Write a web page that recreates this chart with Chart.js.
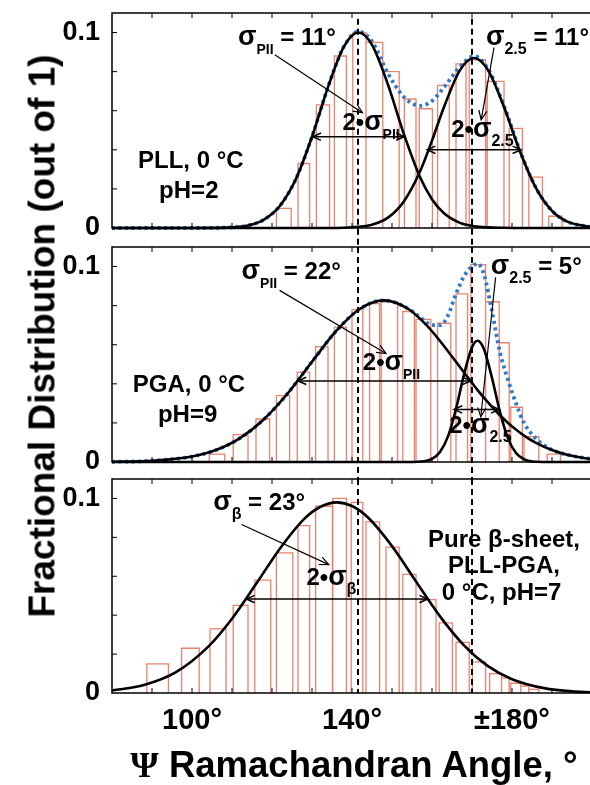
<!DOCTYPE html>
<html>
<head>
<meta charset="utf-8">
<script src="https://cdn.jsdelivr.net/npm/chart.js@4.4.1/dist/chart.umd.min.js"></script>
<style>
  html, body { margin: 0; background: #fff; }
  #fig { position: relative; width: 590px; height: 785px; overflow: hidden; font-family: "Liberation Sans", Arial, sans-serif; }
  #fig canvas { position: absolute; left: 0; top: 0; }
  #ytitle { position: absolute; left: 42px; top: 336px; transform: translate(-50%, -50%) rotate(-90deg); white-space: nowrap; font-weight: bold; font-size: 37px; line-height: 1; }
  #xtitle { position: absolute; left: 354px; top: 765px; transform: translate(-50%, -50%); white-space: nowrap; font-weight: bold; font-size: 36.5px; line-height: 1; }
  #xtitle .psi { font-family: "Liberation Serif", serif; }
</style>
</head>
<body>
<div id="fig">
  <canvas id="pll" width="590" height="785"></canvas>
  <canvas id="pga" width="590" height="785"></canvas>
  <canvas id="beta" width="590" height="785"></canvas>
  <div id="ytitle">Fractional Distribution (out of 1)</div>
  <div id="xtitle"><span class="psi">Ψ</span> Ramachandran Angle, °</div>
</div>
<script>
const FONT = '"Liberation Sans", Arial, sans-serif';
const BAR_RED = '#e8826f';
const DOT_BLUE = '#2f78d0';

const X_MIN = 80, X_MAX = 199.5;
const X_TICKS = [100, 140, 180];
const Y_TICKS = [0, 0.1];
const GUIDES = [141.5, 170]; // dashed reference angles

// PLL, 0 C, pH 2 : histogram bins (deg) and fractions
const pllLo  = [121.1, 126.5, 131.1, 135.6, 140.2, 143.5, 147.7, 153.1, 156.8, 161.4, 166.0, 169.3, 173.8, 179.3, 184.2, 189.2];
const pllHi  = [124.8, 129.4, 134.4, 138.6, 143.5, 147.7, 151.8, 156.0, 160.1, 164.3, 168.5, 173.4, 178.0, 182.6, 187.6, 192.5];
const pllVal = [0.010, 0.033, 0.063, 0.088, 0.100, 0.095, 0.080, 0.066, 0.061, 0.073, 0.084, 0.086, 0.075, 0.051, 0.026, 0.006];
// PLL fitted curves
const pllX   = [80, 100, 108, 114, 118, 122, 126, 130, 134, 138, 141.6, 145, 149, 153, 157, 160, 163, 167, 170.5, 174, 178, 182, 186, 190, 194, 199.5];
const pllPII = [0, 0, 0.0002, 0.0013, 0.0043, 0.0114, 0.0252, 0.0467, 0.0721, 0.0929, 0.100, 0.0937, 0.0733, 0.0479, 0.0261, 0.0147, 0.0075, 0.0026, 0.0009, 0.0003, 0.0001, 0, 0, 0, 0, 0];
const pll25  = [0, 0, 0, 0, 0, 0, 0, 0, 0, 0.0001, 0.0006, 0.0017, 0.0053, 0.0137, 0.0289, 0.0447, 0.0619, 0.0808, 0.087, 0.0808, 0.0619, 0.0391, 0.0204, 0.0088, 0.0031, 0.0006];
const pllSum = [0, 0, 0.0002, 0.0013, 0.0043, 0.0114, 0.0252, 0.0467, 0.0721, 0.093, 0.1005, 0.0955, 0.079, 0.067, 0.0625, 0.065, 0.072, 0.0825, 0.088, 0.0815, 0.0625, 0.0395, 0.0205, 0.0088, 0.0031, 0.0006];

// PGA, 0 C, pH 9
const pgaLo  = [104.3, 110.3, 116.0, 121.1, 126.3, 130.9, 135.6, 140.0, 144.4, 147.3, 152.7, 156.0, 161.4, 166.0, 169.7, 173.4, 176.8, 179.7, 183.0, 188.8];
const pgaHi  = [108.2, 114.0, 119.4, 124.4, 129.4, 134.0, 138.6, 142.7, 146.9, 151.4, 155.6, 159.7, 164.7, 168.9, 173.4, 176.8, 179.3, 182.6, 186.7, 192.1];
const pgaVal = [0.004, 0.014, 0.022, 0.034, 0.046, 0.059, 0.069, 0.078, 0.081, 0.082, 0.077, 0.073, 0.071, 0.086, 0.101, 0.082, 0.061, 0.028, 0.013, 0.004];
const pgaX   = [80, 90, 100, 106, 112, 118, 124, 130, 136, 142, 148, 154, 158, 160, 162, 164, 166, 168, 170, 171.4, 173, 175, 177, 179, 181, 183, 186, 190, 194, 199.5];
const pgaPII = [0.0001, 0.0006, 0.0028, 0.0061, 0.0122, 0.0219, 0.0353, 0.0513, 0.0669, 0.0784, 0.0827, 0.0784, 0.0713, 0.0669, 0.0619, 0.0567, 0.0513, 0.0458, 0.0405, 0.0368, 0.0329, 0.0282, 0.0239, 0.0200, 0.0166, 0.0135, 0.0098, 0.0061, 0.0036, 0.0016];
const pga25  = [0, 0, 0, 0, 0, 0, 0, 0, 0, 0, 0, 0, 0.0004, 0.0016, 0.0051, 0.0131, 0.0271, 0.0447, 0.0587, 0.062, 0.0577, 0.0430, 0.0255, 0.0121, 0.0046, 0.0014, 0.0001, 0, 0, 0];
const pgaSum = [0.0001, 0.0006, 0.0028, 0.0061, 0.0122, 0.0219, 0.0353, 0.0513, 0.0669, 0.0784, 0.0827, 0.0785, 0.0725, 0.070, 0.070, 0.075, 0.086, 0.095, 0.100, 0.1015, 0.096, 0.077, 0.056, 0.042, 0.030, 0.020, 0.012, 0.0062, 0.0036, 0.0016];

// Pure beta-sheet, PLL-PGA, 0 C, pH 7
const betaLo  = [88.7, 97.4, 104.5, 110.3, 115.7, 121.1, 126.5, 130.9, 135.2, 139.8, 143.5, 148.5, 152.7, 157.2, 161.8, 166.0, 170.1, 174.4, 177.4, 179.7, 182.2, 184.2];
const betaHi  = [94.1, 101.8, 108.5, 114.0, 119.7, 125.2, 129.4, 135.1, 138.6, 142.7, 146.9, 151.8, 156.0, 161.0, 165.1, 169.3, 173.4, 177.4, 179.3, 182.2, 184.2, 186.7];
const betaVal = [0.015, 0.023, 0.033, 0.045, 0.058, 0.072, 0.086, 0.096, 0.100, 0.098, 0.088, 0.075, 0.061, 0.048, 0.036, 0.026, 0.016, 0.010, 0.0076, 0.005, 0.0036, 0.0019];
const betaX   = [80, 88, 96, 104, 110, 116, 122, 128, 132, 136.2, 140, 144, 150, 156, 162, 168, 174, 180, 188, 196, 199.5];
const betaFit = [0.0013, 0.0041, 0.0107, 0.0237, 0.0382, 0.0560, 0.0743, 0.0894, 0.0956, 0.098, 0.0961, 0.0902, 0.0755, 0.0573, 0.0394, 0.0245, 0.0138, 0.0071, 0.0025, 0.0007, 0.0004];

// open bars of the histogram as one broken outline
function histOutline(lo, hi, val) {
  const pts = [];
  lo.forEach((l, i) => {
    pts.push({x: l, y: 0}, {x: l, y: val[i]}, {x: hi[i], y: val[i]}, {x: hi[i], y: 0}, {x: hi[i], y: null});
  });
  return pts;
}

const xy = (xs, ys) => xs.map((x, i) => ({x, y: ys[i]}));

function curve(data, color, width, extra) {
  return Object.assign({
    data, showLine: true, borderColor: color, borderWidth: width, pointRadius: 0,
    fill: false, clip: false, cubicInterpolationMode: 'monotone'
  }, extra);
}

function arrowHead(ctx, x1, y1, x2, y2, size) {
  const a = Math.atan2(y2 - y1, x2 - x1);
  ctx.beginPath();
  ctx.moveTo(x2 - size * Math.cos(a - 0.42), y2 - size * Math.sin(a - 0.42));
  ctx.lineTo(x2, y2);
  ctx.lineTo(x2 - size * Math.cos(a + 0.42), y2 - size * Math.sin(a + 0.42));
  ctx.stroke();
}

// box, inward ticks
const frame = {
  id: 'frame',
  afterDatasetsDraw(chart) {
    const {ctx, chartArea: a, scales: {x, y}} = chart;
    ctx.save();
    ctx.strokeStyle = '#000';
    ctx.lineWidth = 1.5;
    ctx.beginPath();
    ctx.moveTo(a.right + 5, a.top);
    ctx.lineTo(a.left, a.top);
    ctx.lineTo(a.left, a.bottom);
    ctx.lineTo(a.right + 5, a.bottom);
    ctx.stroke();
    ctx.lineWidth = 1;
    ctx.beginPath();
    for (let v = 90; v <= 190; v += 10) {
      const px = x.getPixelForValue(v);
      ctx.moveTo(px, a.bottom); ctx.lineTo(px, a.bottom - 5);
      ctx.moveTo(px, a.top); ctx.lineTo(px, a.top + 5);
    }
    for (let k = 1; k <= 5; k++) {
      const py = y.getPixelForValue(k * 0.02);
      ctx.moveTo(a.left, py); ctx.lineTo(a.left + 5, py);
    }
    ctx.stroke();
    ctx.restore();
  }
};

function notesPlugin(notes) {
  return {
    id: 'notes',
    afterDraw(chart) {
      const {ctx, scales: {x, y}} = chart;
      const px = v => x.getPixelForValue(v), py = v => y.getPixelForValue(v);
      ctx.save();
      ctx.fillStyle = '#000';
      ctx.strokeStyle = '#000';
      ctx.textBaseline = 'alphabetic';
      notes.forEach(n => {
        if (n.kind === 'text') {
          ctx.font = `bold ${n.size}px ${FONT}`;
          ctx.textAlign = 'center';
          ctx.fillText(n.text, px(n.x), py(n.y));
        } else if (n.kind === 'rich') {
          ctx.textAlign = 'left';
          let cx = px(n.x);
          n.parts.forEach(([t, size, dy = 0]) => {
            ctx.font = `bold ${size}px ${FONT}`;
            ctx.fillText(t, cx, py(n.y) + dy);
            cx += ctx.measureText(t).width;
          });
        } else if (n.kind === 'pointer') {
          const x1 = px(n.from[0]), y1 = py(n.from[1]), x2 = px(n.to[0]), y2 = py(n.to[1]);
          ctx.lineWidth = 1.2;
          ctx.beginPath(); ctx.moveTo(x1, y1); ctx.lineTo(x2, y2); ctx.stroke();
          arrowHead(ctx, x1, y1, x2, y2, 10);
        } else if (n.kind === 'span') {
          const x1 = px(n.x1), x2 = px(n.x2), yy = py(n.y);
          ctx.lineWidth = 1.5;
          ctx.beginPath(); ctx.moveTo(x1, yy); ctx.lineTo(x2, yy); ctx.stroke();
          arrowHead(ctx, x2, yy, x1, yy, 9);
          arrowHead(ctx, x1, yy, x2, yy, 9);
        }
      });
      ctx.restore();
    }
  };
}

function makePanel(id, p) {
  const datasets = [
    curve(histOutline(p.lo, p.hi, p.val), BAR_RED, 1.3, {cubicInterpolationMode: 'default', tension: 0, order: 5}),
  ];
  if (p.sum) datasets.push(curve(xy(p.x, p.sum), DOT_BLUE, 3.8, {borderDash: [3, 3.5], order: 4}));
  p.fits.forEach(f => datasets.push(curve(xy(p.x, f), '#000', 2.6, {order: 3})));
  GUIDES.forEach(g => datasets.push(curve([{x: g, y: p.guide[0]}, {x: g, y: p.guide[1]}], '#000', 2,
    {borderDash: [6, 4], cubicInterpolationMode: 'default', order: 1})));

  return new Chart(document.getElementById(id), {
    type: 'scatter',
    data: {datasets},
    options: {
      responsive: false,
      animation: false,
      layout: {padding: {top: p.top, bottom: p.bottom, left: 0, right: 0}},
      plugins: {legend: {display: false}, tooltip: {enabled: false}},
      scales: {
        x: {
          type: 'linear', min: X_MIN, max: X_MAX, display: p.showX,
          border: {display: false}, grid: {display: false, drawTicks: false},
          afterBuildTicks: s => { s.ticks = X_TICKS.map(v => ({value: v})); },
          afterFit: s => { if (p.showX) s.height = 92; s.paddingLeft = 0; s.paddingRight = 0; },
          ticks: {
            padding: 11, color: '#000', maxRotation: 0, autoSkip: false,
            font: {family: FONT, size: 29, weight: 'bold'},
            callback: v => (v === 180 ? '±' : '') + v + '°'
          }
        },
        y: {
          min: 0, max: 0.11,
          border: {display: false}, grid: {display: false, drawTicks: false},
          afterBuildTicks: s => { s.ticks = Y_TICKS.map(v => ({value: v})); },
          afterFit: s => { s.width = 112; s.paddingTop = 0; s.paddingBottom = 0; },
          ticks: {
            padding: 12, color: '#000',
            font: {family: FONT, size: 27, weight: 'bold'},
            callback: v => (v === 0 ? '0' : '0.1')
          }
        }
      }
    },
    plugins: [frame, notesPlugin(p.notes)]
  });
}

makePanel('pll', {
  top: 13, bottom: 557, showX: false, guide: [0.107, -0.0097],
  lo: pllLo, hi: pllHi, val: pllVal, x: pllX, sum: pllSum, fits: [pllPII, pll25],
  notes: [
    {kind: 'rich', x: 111.5, y: 0.0938, parts: [['σ', 27], ['PII', 14, 9], [' = 11°', 24]]},
    {kind: 'pointer', from: [120.7, 0.0887], to: [142.6, 0.059]},
    {kind: 'rich', x: 137.6, y: 0.0503, parts: [['2', 24], ['•', 24], ['σ', 27], ['PII', 14, 9]]},
    {kind: 'span', y: 0.0467, x1: 130.2, x2: 153.1},
    {kind: 'rich', x: 173.5, y: 0.0938, parts: [['σ', 27], ['2.5', 16, 9], [' = 11°', 24]]},
    {kind: 'pointer', from: [175.5, 0.0923], to: [172.3, 0.0554]},
    {kind: 'rich', x: 164.8, y: 0.0467, parts: [['2', 24], ['•', 24], ['σ', 27], ['2.5', 16, 9]]},
    {kind: 'span', y: 0.040, x1: 158.8, x2: 182.2},
    {kind: 'text', x: 99.7, y: 0.0306, text: 'PLL, 0 °C', size: 24},
    {kind: 'text', x: 99.2, y: 0.0152, text: 'pH=2', size: 24}
  ]
});

makePanel('pga', {
  top: 247, bottom: 323, showX: false, guide: [0.11, -0.0087],
  lo: pgaLo, hi: pgaHi, val: pgaVal, x: pgaX, sum: pgaSum, fits: [pgaPII, pga25],
  notes: [
    {kind: 'rich', x: 112.4, y: 0.0937, parts: [['σ', 27], ['PII', 14, 9], [' = 22°', 24]]},
    {kind: 'pointer', from: [121.9, 0.0878], to: [148.5, 0.0555]},
    {kind: 'rich', x: 142.7, y: 0.0469, parts: [['2', 24], ['•', 24], ['σ', 27], ['PII', 14, 9]]},
    {kind: 'span', y: 0.0415, x1: 126.5, x2: 169.7},
    {kind: 'rich', x: 174.7, y: 0.0963, parts: [['σ', 27], ['2.5', 16, 9], [' = 5°', 24]]},
    {kind: 'pointer', from: [175.9, 0.0945], to: [172.2, 0.0231]},
    {kind: 'rich', x: 164.3, y: 0.0146, parts: [['2', 24], ['•', 24], ['σ', 27], ['2.5', 16, 9]]},
    {kind: 'span', y: 0.0269, x1: 165.5, x2: 176.8},
    {kind: 'text', x: 99.25, y: 0.0359, text: 'PGA, 0 °C', size: 24},
    {kind: 'text', x: 98.9, y: 0.0206, text: 'pH=9', size: 24}
  ]
});

makePanel('beta', {
  top: 479, bottom: 0, showX: true, guide: [0.11, 0],
  lo: betaLo, hi: betaHi, val: betaVal, x: betaX, sum: null, fits: [betaFit],
  notes: [
    {kind: 'rich', x: 105.3, y: 0.094, parts: [['σ', 27], ['β', 16, 9], [' = 23°', 24]]},
    {kind: 'pointer', from: [112.4, 0.0866], to: [134.2, 0.066]},
    {kind: 'rich', x: 128.6, y: 0.0557, parts: [['2', 24], ['•', 24], ['σ', 27], ['β', 16, 9]]},
    {kind: 'span', y: 0.0483, x1: 113.6, x2: 158.9},
    {kind: 'text', x: 178, y: 0.0752, text: 'Pure β-sheet,', size: 24},
    {kind: 'text', x: 178, y: 0.0617, text: 'PLL-PGA,', size: 24},
    {kind: 'text', x: 177.4, y: 0.0477, text: '0 °C, pH=7', size: 24}
  ]
});
</script>
</body>
</html>
